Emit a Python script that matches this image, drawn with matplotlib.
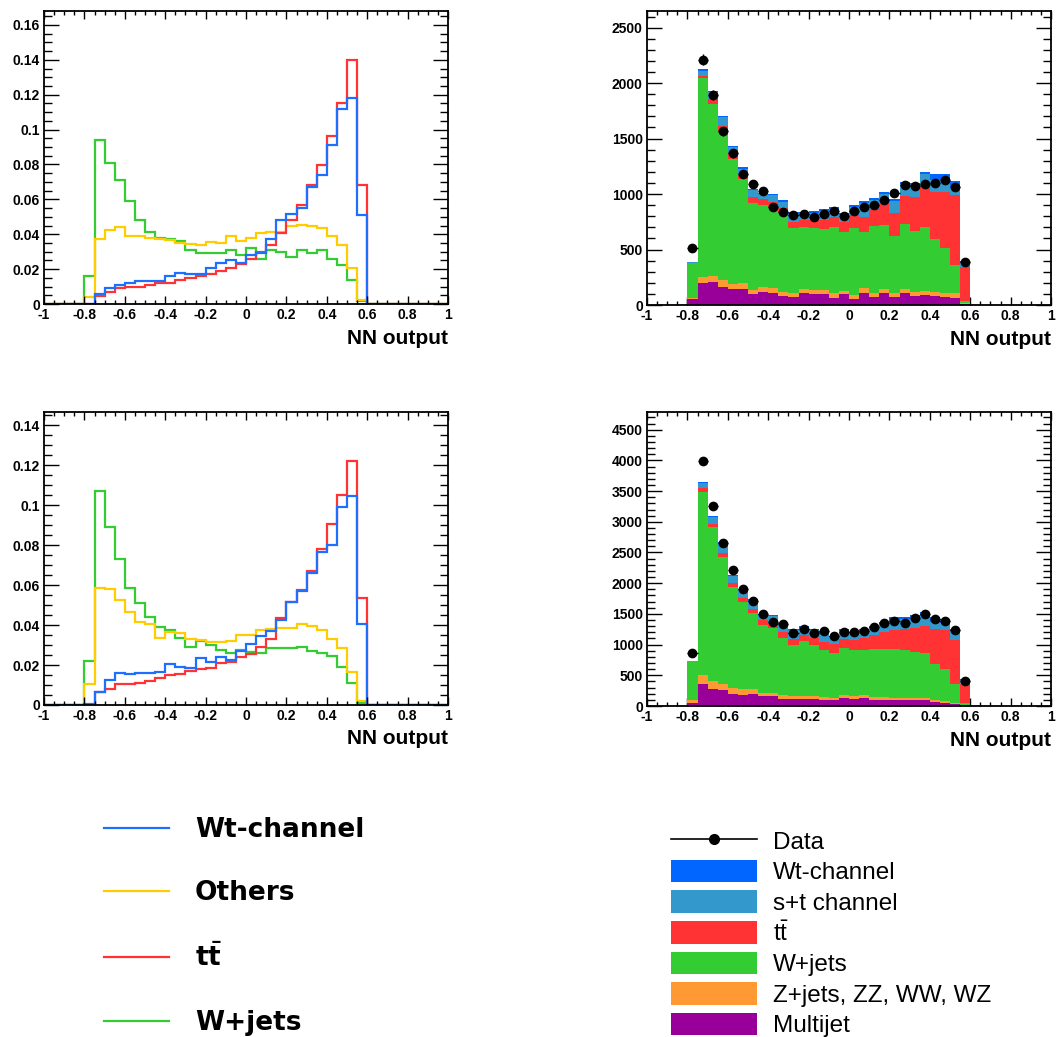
import numpy as np
import matplotlib
matplotlib.use('Agg')
import matplotlib.pyplot as plt
from matplotlib.patches import Patch
from matplotlib.lines import Line2D
from matplotlib.ticker import MultipleLocator, FuncFormatter

plt.rcParams['axes.unicode_minus'] = False
plt.rcParams['mathtext.fontset'] = 'custom'
plt.rcParams['mathtext.rm'] = 'Liberation Sans'
plt.rcParams['mathtext.bf'] = 'DejaVu Sans:bold'

# 40 bins from -1 to 1, only -0.8 .. 0.6 (28 bins) are filled
edges = np.linspace(-1, 1, 41)
n_left, n_right = 4, 8

# ---- normalised shapes, top-left ----
tl_wt = [0.0, 0.0057, 0.009, 0.011, 0.012, 0.0134, 0.013, 0.0134, 0.016, 0.0178, 0.017, 0.0174, 0.0206, 0.0235,
         0.025, 0.0235, 0.028, 0.029, 0.0375, 0.048, 0.0515, 0.055, 0.067, 0.0737, 0.091, 0.112, 0.118, 0.051]
tl_others = [0.004, 0.037, 0.0425, 0.044, 0.039, 0.039, 0.038, 0.037, 0.0365, 0.035, 0.0345, 0.034, 0.0355, 0.035,
             0.039, 0.036, 0.038, 0.0405, 0.041, 0.0415, 0.0445, 0.0455, 0.045, 0.0435, 0.039, 0.034, 0.0205, 0.0025]
tl_tt = [0.0, 0.0045, 0.007, 0.009, 0.0095, 0.010, 0.011, 0.012, 0.012, 0.0135, 0.015, 0.016, 0.017, 0.019,
         0.0205, 0.023, 0.026, 0.030, 0.034, 0.0405, 0.048, 0.057, 0.068, 0.0795, 0.0965, 0.115, 0.140, 0.068]
tl_wjets = [0.0162, 0.094, 0.081, 0.071, 0.059, 0.048, 0.041, 0.038, 0.037, 0.036, 0.031, 0.029, 0.029, 0.029,
            0.031, 0.028, 0.032, 0.026, 0.031, 0.030, 0.027, 0.031, 0.029, 0.031, 0.026, 0.0225, 0.014, 0.0015]

# ---- normalised shapes, bottom-left ----
bl_wt = [0.0005, 0.0065, 0.0125, 0.0159, 0.0154, 0.0162, 0.0162, 0.0167, 0.0204, 0.0192, 0.0187, 0.0234, 0.0214, 0.0242,
         0.0225, 0.0272, 0.0304, 0.0346, 0.0372, 0.0426, 0.0518, 0.0573, 0.066, 0.0768, 0.080, 0.099, 0.1044, 0.0406]
bl_others = [0.0104, 0.0588, 0.0583, 0.0526, 0.0466, 0.0418, 0.0404, 0.0337, 0.0367, 0.036, 0.033, 0.0326, 0.0317, 0.0317,
             0.032, 0.035, 0.035, 0.0376, 0.038, 0.0388, 0.0388, 0.0404, 0.0396, 0.0376, 0.033, 0.0287, 0.0164, 0.0022]
bl_tt = [0.0, 0.0065, 0.0082, 0.0104, 0.0107, 0.0112, 0.012, 0.0134, 0.0149, 0.0155, 0.0172, 0.018, 0.0187, 0.0209,
         0.0217, 0.0239, 0.0256, 0.0292, 0.0329, 0.0438, 0.0515, 0.0576, 0.0673, 0.0783, 0.0905, 0.105, 0.122, 0.0538]
bl_wjets = [0.022, 0.107, 0.089, 0.073, 0.0585, 0.051, 0.044, 0.039, 0.0376, 0.0337, 0.029, 0.032, 0.030, 0.0276,
            0.026, 0.0276, 0.0267, 0.026, 0.0284, 0.0284, 0.0284, 0.029, 0.027, 0.026, 0.0247, 0.019, 0.011, 0.0012]

# ---- event counts, top-right ----
tr_mj = [54, 198, 210, 165, 144, 147, 96, 120, 111, 84, 75, 105, 99, 99, 66, 96, 51, 111, 75, 105, 75, 105, 81, 90, 81, 75, 66, 9]
tr_zj = [8, 51, 54, 60, 45, 48, 39, 39, 39, 36, 36, 36, 36, 36, 39, 30, 39, 39, 36, 36, 30, 36, 39, 36, 36, 36, 39, 6]
tr_wj = [319, 1801, 1552, 1345, 1126, 939, 786, 741, 735, 705, 585, 564, 561, 546, 594, 528, 600, 504, 600, 576, 516, 588,
         549, 573, 474, 399, 255, 24]
tr_tt = [2, 15, 39, 45, 42, 42, 48, 51, 45, 45, 54, 60, 69, 84, 90, 96, 120, 141, 150, 192, 204, 252, 306, 360, 429, 510, 630, 306]
tr_st = [1, 45, 65, 80, 68, 54, 66, 48, 57, 60, 69, 60, 66, 81, 72, 60, 69, 126, 84, 90, 108, 114, 114, 120, 105, 105, 75, 45]
tr_wt = [1, 15, 10, 10, 12, 12, 15, 12, 15, 15, 15, 15, 15, 15, 18, 15, 18, 18, 21, 18, 18, 15, 15, 21, 54, 60, 51, 9]
tr_data = [510, 2212, 1894, 1567, 1366, 1180, 1095, 1030, 880, 840, 813, 816, 789, 819, 846, 801, 849, 885, 900, 945,
           1011, 1080, 1071, 1089, 1101, 1131, 1065, 384]

# ---- event counts, bottom-right ----
br_mj = [49, 365, 283, 267, 201, 185, 201, 163, 163, 120, 120, 120, 109, 103, 92, 136, 109, 131, 103, 103, 92, 92, 92, 92,
         65, 54, 38, 11]
br_zj = [43, 135, 125, 98, 98, 87, 76, 49, 55, 54, 43, 43, 49, 44, 44, 49, 49, 43, 44, 44, 39, 39, 39, 44, 27, 28, 16, 11]
br_wj = [637, 2993, 2503, 2056, 1644, 1420, 1230, 1105, 1055, 941, 827, 898, 843, 762, 729, 767, 751, 746, 789, 789, 794,
         778, 750, 729, 599, 527, 300, 32]
br_tt = [9, 55, 49, 66, 65, 71, 71, 81, 82, 93, 98, 103, 114, 136, 142, 147, 174, 195, 228, 272, 310, 353, 392, 435, 571,
         626, 729, 311]
br_st = [1, 82, 125, 163, 109, 125, 136, 82, 109, 125, 147, 109, 120, 147, 119, 125, 98, 109, 109, 120, 163, 147, 169, 164,
         109, 120, 141, 54]
br_wt = [1, 10, 16, 16, 16, 22, 22, 22, 16, 22, 22, 22, 22, 32, 22, 22, 27, 27, 33, 43, 44, 44, 38, 70, 82, 54, 33, 16]
br_data = [871, 3983, 3265, 2650, 2215, 1910, 1709, 1491, 1371, 1333, 1192, 1246, 1197, 1219, 1137, 1208, 1208, 1219, 1279,
           1344, 1388, 1344, 1437, 1502, 1420, 1382, 1235, 408]

line_colors = {'wt': '#1f6fff', 'others': '#ffcc00', 'tt': '#ff3333', 'wjets': '#33cc33'}
stack_colors = ['#990099', '#ff9933', '#33cc33', '#ff3333', '#3399cc', '#0066ff']
stack_names = ['Multijet', 'Z+jets, ZZ, WW, WZ', 'W+jets', r'$\mathrm{t\bar{t}}$', 's+t channel', 'Wt-channel']

W, H = 1058, 1037
fig = plt.figure(figsize=(W / 100, H / 100), dpi=100)


def full(vals):
    return np.concatenate([np.zeros(n_left), np.asarray(vals, float), np.zeros(n_right)])


def make_axes(x0, y_top, y_bot):
    ax = fig.add_axes([x0 / W, 1 - y_bot / H, 404 / W, (y_bot - y_top) / H])
    for s in ax.spines.values():
        s.set_linewidth(1.3)
    ax.set_xlim(-1, 1)
    ax.xaxis.set_major_locator(MultipleLocator(0.2))
    ax.xaxis.set_minor_locator(MultipleLocator(0.05))
    ax.tick_params(which='both', direction='in', top=True, right=True, width=1.0)
    ax.tick_params(axis='y', which='major', length=10.5, pad=3)
    ax.tick_params(axis='y', which='minor', length=5.5)
    ax.tick_params(axis='x', which='major', length=5.5, pad=3)
    ax.tick_params(axis='x', which='minor', length=3)
    fmt = FuncFormatter(lambda v, p: '%g' % round(v, 4))
    ax.xaxis.set_major_formatter(fmt)
    ax.yaxis.set_major_formatter(fmt)
    ax.text(1.0, -34 / (y_bot - y_top), 'NN output', transform=ax.transAxes, ha='right', va='center',
            fontsize=15, fontweight='bold', family='Liberation Sans')
    return ax


def shape_panel(ax, wt, others, tt, wjets, ymax):
    for vals, key in [(wjets, 'wjets'), (others, 'others'), (tt, 'tt'), (wt, 'wt')]:
        ax.stairs(full(vals), edges, color=line_colors[key], linewidth=1.6)
    ax.set_ylim(0, ymax)
    ax.yaxis.set_major_locator(MultipleLocator(0.02))
    ax.yaxis.set_minor_locator(MultipleLocator(0.005))


def stack_panel(ax, comps, data, ymax):
    bottom = np.zeros(len(edges) - 1)
    ax.stairs(full(comps[0]), edges, color=stack_colors[0], linewidth=1.0, zorder=1)
    for vals, col in zip(comps, stack_colors):
        top = bottom + full(vals)
        ax.stairs(top, edges, baseline=bottom, fill=True, color=col, linewidth=0, zorder=2)
        bottom = top
    centers = 0.5 * (edges[:-1] + edges[1:])[n_left:len(edges) - 1 - n_right]
    d = np.asarray(data, float)
    ax.errorbar(centers, d, xerr=0.025, yerr=np.sqrt(d), fmt='o', color='black', ms=6,
                elinewidth=1.0, capsize=0, zorder=3)
    ax.set_ylim(0, ymax)
    ax.yaxis.set_major_locator(MultipleLocator(500))
    ax.yaxis.set_minor_locator(MultipleLocator(100))


ax_tl = make_axes(44, 11, 304)
shape_panel(ax_tl, tl_wt, tl_others, tl_tt, tl_wjets, 0.168)
ax_bl = make_axes(44, 412, 705)
shape_panel(ax_bl, bl_wt, bl_others, bl_tt, bl_wjets, 0.1467)

ax_tr = make_axes(647, 11, 305)
stack_panel(ax_tr, [tr_mj, tr_zj, tr_wj, tr_tt, tr_st, tr_wt], tr_data, 2650)
ax_br = make_axes(647, 412, 706)
stack_panel(ax_br, [br_mj, br_zj, br_wj, br_tt, br_st, br_wt], br_data, 4788)

for ax in [ax_tl, ax_bl, ax_tr, ax_br]:
    for lab in ax.get_xticklabels() + ax.get_yticklabels():
        lab.set_fontfamily('Liberation Sans')
        lab.set_fontweight('bold')
        lab.set_fontsize(10)

# left legend (line histograms)
left_handles = [Line2D([], [], color=line_colors[k], linewidth=1.6) for k in ['wt', 'others', 'tt', 'wjets']]
left_labels = ['Wt-channel', 'Others', r'$\mathbf{t\bar{t}}$', 'W+jets']
fig.legend(left_handles, left_labels, loc='upper left', bbox_to_anchor=(104 / W, 1 - 817 / H),
           frameon=False, borderpad=0, borderaxespad=0, handlelength=2.45, handletextpad=1.0,
           labelspacing=1.42, prop={'family': 'DejaVu Sans', 'weight': 'bold', 'size': 19})

# right legend (stack)
data_handle = Line2D([], [], color='black', linewidth=1.2, marker='o', markersize=7)
right_handles = [data_handle] + [Patch(facecolor=c, edgecolor='none') for c in stack_colors[::-1]]
right_labels = ['Data'] + stack_names[::-1]
fig.legend(right_handles, right_labels, loc='upper left', bbox_to_anchor=(671 / W, 1 - 829 / H),
           frameon=False, borderpad=0, borderaxespad=0, handlelength=3.55, handleheight=1.05,
           handletextpad=0.66, labelspacing=0.25, numpoints=1,
           prop={'family': 'Liberation Sans', 'size': 17.5})

fig.savefig('out.png', dpi=100)
